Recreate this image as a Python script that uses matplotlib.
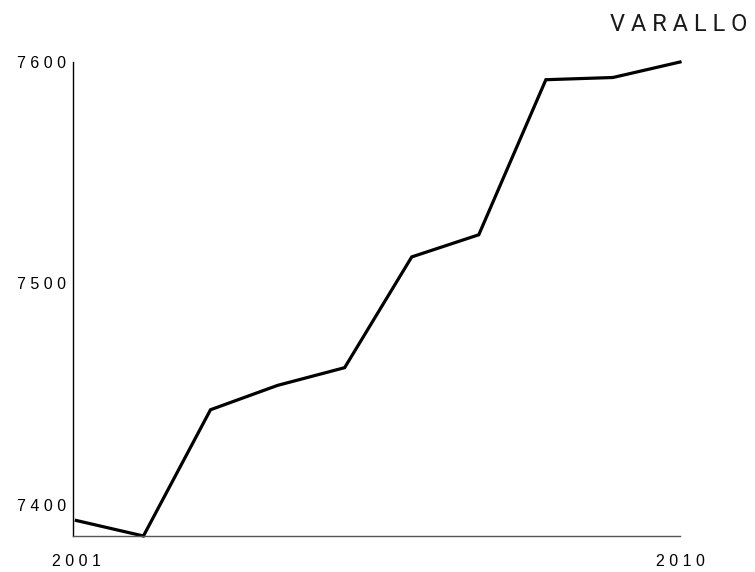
import matplotlib
matplotlib.use("Agg")
import matplotlib.pyplot as plt

years = [2001, 2002, 2003, 2004, 2005, 2006, 2007, 2008, 2009, 2010]
population = [7393, 7386, 7443, 7454, 7462, 7512, 7522, 7592, 7593, 7600]
y_ticks = [7400, 7500, 7600]
title = "VARALLO"

def spaced(s):
    return " ".join(str(s))

fig = plt.figure(figsize=(7.55, 5.72), dpi=100)
ax = fig.add_axes([73/755, 36/572, (680-73)/755, (536-62)/572])

ax.plot(years, population, color="black", lw=2.3, clip_on=False,
        solid_joinstyle="miter")

ax.set_xlim(2000.95, 2010)
ax.set_ylim(min(population), max(population))

for side in ("top", "right"):
    ax.spines[side].set_visible(False)
ax.spines["left"].set_linewidth(1)
ax.spines["bottom"].set_linewidth(1)
ax.spines["bottom"].set_color("#555555")

ax.set_xticks([years[0], years[-1]])
ax.set_xticklabels([spaced(years[0]), spaced(years[-1])],
                   fontsize=11.5, family="Liberation Sans")
ax.set_yticks(y_ticks)
ax.set_yticklabels([spaced(v) for v in y_ticks],
                   fontsize=11.5, family="Liberation Sans")
ax.tick_params(axis="x", length=0, pad=13)
ax.tick_params(axis="y", length=0, pad=5)

fig.text(747/755, 1 - 24.5/572, spaced(title), ha="right", va="center",
         fontsize=17, color="#1a1a1a", family="Roboto")

fig.savefig("out.png", dpi=100)
